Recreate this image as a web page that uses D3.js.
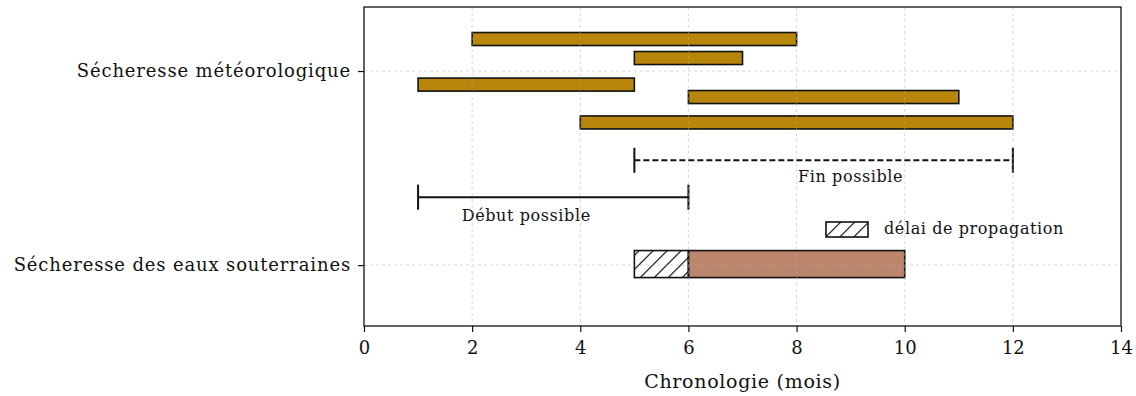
<!DOCTYPE html>
<html>
<head>
<meta charset="utf-8">
<script src="https://cdn.jsdelivr.net/npm/d3@7"></script>
<style>
  html, body { margin: 0; padding: 0; background: #fff; }
  svg { display: block; }
  text { font-family: "DejaVu Serif", "Liberation Serif", serif; fill: #111; }
</style>
</head>
<body>
<div id="chart"></div>
<script>
// Categories on the y axis (value 1 = top row, value 0 = bottom row)
const categories = ["Sécheresse météorologique", "Sécheresse des eaux souterraines"];
const categoryLevel = [1, 0];

// Meteorological drought episodes (months)
const meteoStart = [2, 5, 1, 6, 4];
const meteoEnd = [8, 7, 5, 11, 12];
const meteoLevel = [1.165, 1.067, 0.930, 0.866, 0.735];

// Groundwater drought: propagation delay then drought period
const delayStart = 5, delayEnd = 6;
const gwStart = 6, gwEnd = 10;
const gwLevel = 0;

// Possible start / end ranges
const debutRange = [1, 6], debutLevel = 0.35, debutLabelX = 3, debutLabelLevel = 0.227;
const finRange = [5, 12], finLevel = 0.54, finLabelX = 9, finLabelLevel = 0.428;

const xTicks = [0, 2, 4, 6, 8, 10, 12, 14];
const xTitle = "Chronologie (mois)";
const legendLabel = "délai de propagation";

const W = 1136, H = 396;
const margin = { left: 364, right: 15, top: 7, bottom: 70 };
const innerW = W - margin.left - margin.right;
const innerH = H - margin.top - margin.bottom;

const x = d3.scaleLinear().domain([0, 14]).range([0, innerW]);
const y = d3.scaleLinear().domain([-0.314, 1.33]).range([innerH, 0]);

const svg = d3.select("#chart").append("svg").attr("width", W).attr("height", H);

const defs = svg.append("defs");
defs.append("pattern")
  .attr("id", "hatch")
  .attr("patternUnits", "userSpaceOnUse")
  .attr("width", 9.9).attr("height", 9.9)
  .attr("patternTransform", "rotate(45)")
  .append("line")
  .attr("x1", 0).attr("y1", 0).attr("x2", 0).attr("y2", 9.9)
  .attr("stroke", "#000").attr("stroke-width", 2.2);

const g = svg.append("g").attr("transform", `translate(${margin.left},${margin.top})`);

// Meteorological bars
const meteoH = 13;
const meteo = meteoStart.map((s, i) => ({ s, e: meteoEnd[i], lv: meteoLevel[i] }));
g.selectAll("rect.meteo").data(meteo).join("rect")
  .attr("class", "meteo")
  .attr("x", d => x(d.s))
  .attr("y", d => y(d.lv) - meteoH / 2)
  .attr("width", d => x(d.e) - x(d.s))
  .attr("height", meteoH)
  .attr("fill", "#B8860B")
  .attr("stroke", "#111").attr("stroke-width", 1.6);

// Groundwater bars
const gwH = 27;
g.append("rect")
  .attr("x", x(gwStart)).attr("y", y(gwLevel) - gwH / 2 - 1)
  .attr("width", x(gwEnd) - x(gwStart)).attr("height", gwH)
  .attr("fill", "rgba(160,82,45,0.7)")
  .attr("stroke", "#111").attr("stroke-width", 1.6);
g.append("rect")
  .attr("x", x(delayStart)).attr("y", y(gwLevel) - gwH / 2 - 1)
  .attr("width", x(delayEnd) - x(delayStart)).attr("height", gwH)
  .attr("fill", "url(#hatch)")
  .attr("stroke", "#111").attr("stroke-width", 1.6);

// Range markers with end caps
function rangeMarker(range, level, dash) {
  const yy = y(level);
  g.append("line")
    .attr("x1", x(range[0])).attr("x2", x(range[1]))
    .attr("y1", yy).attr("y2", yy)
    .attr("stroke", "#111").attr("stroke-width", 2)
    .attr("stroke-dasharray", dash);
  range.forEach(v => {
    g.append("line")
      .attr("x1", x(v)).attr("x2", x(v))
      .attr("y1", yy - 12.5).attr("y2", yy + 12.5)
      .attr("stroke", "#111").attr("stroke-width", 2);
  });
}
rangeMarker(finRange, finLevel, "6,3");
rangeMarker(debutRange, debutLevel, null);

const annotStyle = sel => sel.style("font-size", "16px").style("letter-spacing", "0.6px");
g.append("text").attr("x", x(finLabelX)).attr("y", y(finLabelLevel))
  .attr("text-anchor", "middle").call(annotStyle).text("Fin possible");
g.append("text").attr("x", x(debutLabelX)).attr("y", y(debutLabelLevel))
  .attr("text-anchor", "middle").call(annotStyle).text("Début possible");

// Grid (drawn above the bars, light dashed)
const grid = g.append("g").attr("stroke", "#b0b0b0").attr("stroke-width", 0.8)
  .attr("stroke-dasharray", "3,3").attr("opacity", 0.6);
xTicks.slice(1, -1).forEach(t => {
  grid.append("line").attr("x1", x(t)).attr("x2", x(t)).attr("y1", 0).attr("y2", innerH);
});
categoryLevel.forEach(lv => {
  grid.append("line").attr("x1", 0).attr("x2", innerW).attr("y1", y(lv)).attr("y2", y(lv));
});

// Legend
const leg = g.append("g").attr("transform", `translate(${826 - margin.left},${222 - margin.top})`);
leg.append("rect").attr("width", 42).attr("height", 15)
  .attr("fill", "url(#hatch)").attr("stroke", "#111").attr("stroke-width", 1.6);
leg.append("text").attr("x", 58).attr("y", 12).call(annotStyle).text(legendLabel);

// Frame
g.append("rect").attr("width", innerW).attr("height", innerH)
  .attr("fill", "none").attr("stroke", "#111").attr("stroke-width", 1.3);

// X axis
const xAxis = g.append("g").attr("transform", `translate(0,${innerH})`)
  .call(d3.axisBottom(x).tickValues(xTicks).tickSize(6).tickPadding(9));
xAxis.select(".domain").remove();
xAxis.selectAll("line").attr("stroke", "#111").attr("stroke-width", 1.2);
xAxis.selectAll("text").style("font-size", "18px").attr("fill", "#111");

g.append("text").attr("x", innerW / 2).attr("y", innerH + 62)
  .attr("text-anchor", "middle").style("font-size", "19px").style("letter-spacing", "0.7px")
  .text(xTitle);

// Y axis
const yAxis = g.append("g")
  .call(d3.axisLeft(y).tickValues(categoryLevel)
    .tickFormat((d, i) => categories[i]).tickSize(6).tickPadding(7));
yAxis.select(".domain").remove();
yAxis.selectAll("line").attr("stroke", "#111").attr("stroke-width", 1.2);
yAxis.selectAll("text").style("font-size", "18px").style("letter-spacing", "0.85px").attr("fill", "#111");
</script>
</body>
</html>
